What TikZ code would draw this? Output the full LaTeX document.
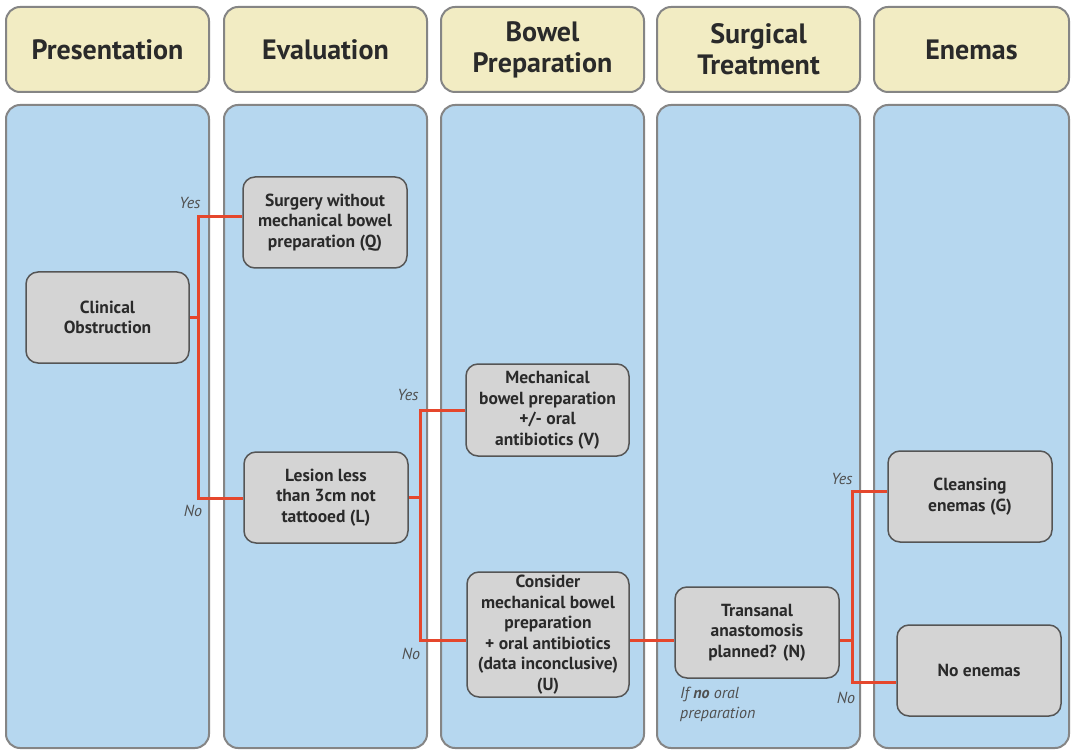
\documentclass[tikz,border=0pt]{standalone}
\usepackage{fontspec}
\setmainfont{PT Sans}
\definecolor{panelblue}{HTML}{B6D7EF}
\definecolor{headbeige}{HTML}{F2ECC3}
\definecolor{boxgray}{HTML}{D4D4D4}
\definecolor{linered}{HTML}{E5472D}
\definecolor{edgegray}{HTML}{858585}
\definecolor{boxedge}{HTML}{555555}
\definecolor{txt}{HTML}{2A2A2A}
\definecolor{lbl}{HTML}{505050}
\begin{document}
\begin{tikzpicture}[x=1pt,y=-1pt,
  panel/.style={fill=panelblue,draw=edgegray,line width=2pt,rounded corners=14pt},
  header/.style={fill=headbeige,draw=edgegray,line width=2pt,rounded corners=14pt,
     minimum width=203pt,minimum height=85pt,align=center,text=txt,
     font=\fontsize{28}{31}\selectfont\bfseries,inner sep=0pt},
  box/.style={fill=boxgray,draw=boxedge,line width=1.5pt,rounded corners=12pt,
     minimum width=164pt,minimum height=91pt,align=center,text=txt,
     font=\fontsize{17.5}{20.5}\selectfont\bfseries,inner sep=0pt},
  conn/.style={draw=linered,line width=3pt},
  lab/.style={text=lbl,font=\fontsize{16}{20}\selectfont\itshape,inner sep=0pt}]
\useasboundingbox (0,0) rectangle (1073,751);
\fill[white] (0,0) rectangle (1073,751);
% panels
\draw[panel] (6,105) rectangle (209,748);
\draw[panel] (224,105) rectangle (427,748);
\draw[panel] (441,105) rectangle (644,748);
\draw[panel] (657,105) rectangle (860,748);
\draw[panel] (874,105) rectangle (1069,748);
% headers
\node[header] (h1) at (107.5,49.5) {Presentation};
\node[header] (h2) at (325.5,49.5) {Evaluation};
\node[header] (h3) at (542.5,49.5) {Bowel\\Preparation};
\node[header] (h4) at (758.5,49.5) {Surgical\\Treatment};
\node[header,minimum width=195pt] (h5) at (971.5,49.5) {Enemas};
% boxes
\node[box,minimum width=163pt] (co) at (107.5,317.5) {Clinical\\Obstruction};
\node[box] (Q) at (325,222.5) {Surgery without\\mechanical bowel\\preparation (Q)};
\node[box] (L) at (326,497.5) {Lesion less\\than 3cm not\\tattooed (L)};
\node[box,minimum width=163pt,minimum height=92pt] (V) at (547.5,410) {Mechanical\\bowel preparation\\+/- oral\\antibiotics (V)};
\node[box,minimum width=162pt,minimum height=125pt] (U) at (548,634.5) {Consider\\mechanical bowel\\preparation\\+ oral antibiotics\\(data inconclusive)\\(U)};
\node[box] (N) at (757,632.5) {Transanal\\anastomosis\\planned? (N)};
\node[box] (G) at (970,496.5) {Cleansing\\enemas (G)};
\node[box] (NE) at (979,670.5) {No enemas};
% junctions
\coordinate (j1) at (198,217);
\coordinate (j1b) at (198,498);
\coordinate (j2) at (420,410);
\coordinate (j3) at (420,640);
\coordinate (j4) at (852,491);
\coordinate (j5) at (852,640);
\coordinate (j6) at (852,682);
% connectors
\draw[conn] (co.east) -- (co.east -| j1);
\draw[conn] (Q.west |- j1) -- (j1) -- (j1b) -- (L.west |- j1b);
\draw[conn] (L.east) -- (L.east -| j2);
\draw[conn] (V.west |- j2) -- (j2) -- (j3) -- (U.west |- j3);
\draw[conn] (U.east |- j3) -- (N.west |- j3);
\draw[conn] (N.east |- j5) -- (j5);
\draw[conn] (G.west |- j4) -- (j4) -- (j6) -- (NE.west |- j6);
% labels
\node[lab] (y1) at (190,203) {Yes};
\node[lab] (n1) at (193,511) {No};
\node[lab] (y2) at (408,395) {Yes};
\node[lab] (n2) at (411,654) {No};
\node[lab] (y3) at (842,479) {Yes};
\node[lab] (n3) at (846,698) {No};
\node[lab,anchor=west,align=left] (note) at (680,704) {If \textbf{no} oral\\preparation};
\end{tikzpicture}
\end{document}
